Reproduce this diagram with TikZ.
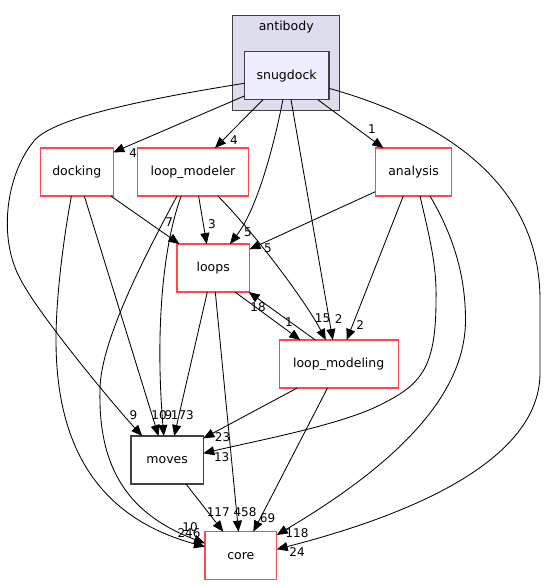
\documentclass[tikz,border=0pt]{standalone}
\usepackage{fontspec}
\setmainfont{DejaVu Sans}
\usetikzlibrary{arrows.meta}
\definecolor{dred}{HTML}{FF4848}
\definecolor{dgray}{HTML}{404040}
\definecolor{clfill}{HTML}{DDDDEE}
\definecolor{sfill}{HTML}{EEEEFF}
\begin{document}
\begin{tikzpicture}[x=1pt,y=-1pt,
  dirbox/.style={draw=dred, line width=1.1pt, minimum height=48pt, inner sep=0pt, font=\fontsize{12.5}{15}\selectfont},
  graybox/.style={dirbox, draw=dgray, line width=1.3pt},
  edge/.style={draw=black, line width=0.85pt, -{Triangle[length=11pt,width=9pt]}},
  lbl/.style={font=\fontsize{12}{14}\selectfont, inner sep=0pt}]
\useasboundingbox (0,0) rectangle (545,585);
% cluster
\draw[fill=clfill, draw=dgray, line width=1.1pt] (232.8,15.7) rectangle (339.7,110.3);
\node[font=\fontsize{12.5}{15}\selectfont] (antibody) at (286.2,27.5) {antibody};
% nodes
\node[graybox, fill=sfill, minimum width=84.6pt] (snugdock) at (286.6,75.7) {snugdock};
\node[dirbox, minimum width=73.5pt] (docking) at (76.8,172) {docking};
\node[dirbox, minimum width=110.8pt] (loopmodeler) at (193,172) {loop\_modeler};
\node[dirbox, minimum width=76.6pt] (analysis) at (413.6,172) {analysis};
\node[dirbox, minimum width=72.5pt] (loops) at (213.2,268) {loops};
\node[dirbox, minimum width=119.2pt] (loopmodeling) at (338.7,364) {loop\_modeling};
\node[graybox, minimum width=72.3pt] (moves) at (167.2,460) {moves};
\node[dirbox, minimum width=71.7pt] (core) at (240.8,555.7) {core};
% snugdock edges
\draw[edge] ([shift={(-42.3,7.6)}]snugdock.center) .. controls (140,100) and (55,118) .. (34.8,140)
  .. controls (5,175) and (-2,240) .. (20.9,280)
  .. controls (39.3,315.6) and (115,406.5) .. ([shift={(-25,-24)}]moves.center)
  node[lbl] at (133.5,415) {9};
\draw[edge] ([shift={(-42.3,20.3)}]snugdock.center) -- ([shift={(36.5,-19.7)}]docking.center)
  node[lbl] at (133.3,153) {4};
\draw[edge] ([shift={(-23.6,24)}]snugdock.center) -- ([shift={(22,-24)}]loopmodeler.center)
  node[lbl] at (234,140) {4};
\draw[edge] ([shift={(-3.7,24)}]snugdock.center) .. controls (274.3,144) and (257.5,208.5) .. ([shift={(16.8,-24)}]loops.center)
  node[lbl] at (248,232) {5};
\draw[edge] ([shift={(4.4,24)}]snugdock.center) -- ([shift={(-5.9,-24)}]loopmodeling.center)
  node[lbl] at (338.7,319.5) {2};
\draw[edge] ([shift={(31.2,24)}]snugdock.center) -- ([shift={(-30.3,-24)}]analysis.center)
  node[lbl] at (372,129) {1};
\draw[edge] ([shift={(42.3,12.6)}]snugdock.center) .. controls (454,123.4) and (540,190) .. (540,300)
  -- (540,373) .. controls (540,445) and (451.6,504.3) .. ([shift={(35.9,-6.4)}]core.center)
  node[lbl] at (297,552.5) {24};
% docking edges
\draw[edge] ([shift={(34,24)}]docking.center) -- ([shift={(-33.8,-24)}]loops.center)
  node[lbl] at (169.2,222.5) {7};
\draw[edge] ([shift={(7.5,24)}]docking.center) -- ([shift={(-8.7,-24)}]moves.center)
  node[lbl] at (159,415.5) {10};
\draw[edge] ([shift={(-5.4,24)}]docking.center) .. controls (62.4,245) and (56,300) .. (56,340)
  .. controls (56,460) and (109.6,520.7) .. ([shift={(-35.8,-9)}]core.center)
  node[lbl] at (189,532.8) {246};
% loop_modeler edges
\draw[edge] ([shift={(5.6,24)}]loopmodeler.center) -- ([shift={(-6.5,-24)}]loops.center)
  node[lbl] at (212,224) {3};
\draw[edge] ([shift={(24.8,24)}]loopmodeler.center) .. controls (252,230) and (305,300) .. ([shift={(-12.9,-24)}]loopmodeling.center)
  node[lbl] at (322.5,318.5) {15};
\draw[edge] ([shift={(-11.8,24)}]loopmodeler.center) .. controls (163,245) and (155,330) .. ([shift={(-3.4,-24)}]moves.center)
  node[lbl] at (168.5,415) {9};
\draw[edge] ([shift={(-16,24)}]loopmodeler.center) .. controls (148.8,248.8) and (100,340) .. (100,390)
  .. controls (98,470) and (130,515) .. ([shift={(-35.8,-12.4)}]core.center)
  node[lbl] at (190,527.5) {10};
% loops edges
\draw[edge] ([shift={(-5.9,24)}]loops.center) -- ([shift={(7,-24)}]moves.center)
  node[lbl] at (182.4,415) {173};
\draw[edge] ([shift={(2.1,24)}]loops.center) -- ([shift={(-2.3,-24)}]core.center)
  node[lbl] at (245,511.7) {458};
\draw[edge] ([shift={(21.8,24)}]loops.center) -- ([shift={(-38.4,-24)}]loopmodeling.center)
  node[lbl] at (289,321.7) {1};
\draw[edge] ([shift={(-23.4,-24)}]loopmodeling.center) -- ([shift={(35.5,24)}]loops.center)
  node[lbl] at (258,306.7) {18};
% analysis edges
\draw[edge] ([shift={(-38.3,19.7)}]analysis.center) -- ([shift={(36.3,-18.7)}]loops.center)
  node[lbl] at (268,248.7) {5};
\draw[edge] ([shift={(-10.3,24)}]analysis.center) -- ([shift={(8,-24)}]loopmodeling.center)
  node[lbl] at (360.3,324.7) {2};
\draw[edge] ([shift={(6.4,24)}]analysis.center) .. controls (428.8,234.5) and (437,265) .. (436,300)
  .. controls (436,370) and (420,385) .. (380,405)
  .. controls (340,425) and (260,440) .. ([shift={(36.1,-6.7)}]moves.center)
  node[lbl] at (221.7,457.5) {13};
\draw[edge] ([shift={(16.4,24)}]analysis.center) .. controls (450,230) and (465.5,270) .. (465.5,320)
  .. controls (465.5,390) and (406,458.5) .. ([shift={(35.9,-20.7)}]core.center)
  node[lbl] at (297,533.3) {118};
% loop_modeling edges
\draw[edge] ([shift={(-41.5,24)}]loopmodeling.center) -- ([shift={(36.1,-21.7)}]moves.center)
  node[lbl] at (222.5,437) {23};
\draw[edge] ([shift={(-11.2,24)}]loopmodeling.center) -- ([shift={(12.5,-24)}]core.center)
  node[lbl] at (267.5,518.3) {69};
% moves edge
\draw[edge] ([shift={(18.8,24)}]moves.center) -- ([shift={(-17.5,-24)}]core.center)
  node[lbl] at (218.3,511.7) {117};
\end{tikzpicture}
\end{document}
